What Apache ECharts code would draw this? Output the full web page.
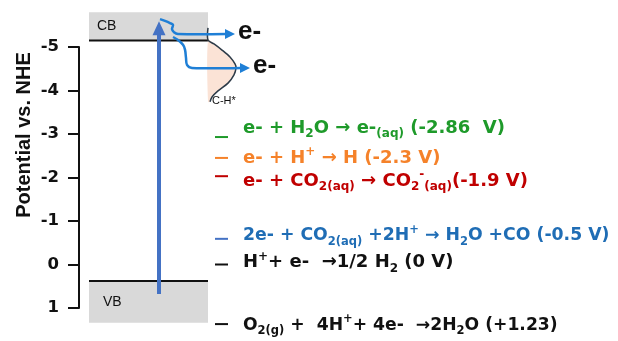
<!DOCTYPE html>
<html><head><meta charset="utf-8">
<script src="https://cdn.jsdelivr.net/npm/echarts@6/dist/echarts.min.js"></script>
<style>html,body{margin:0;padding:0;background:#fff}#c{width:618px;height:341px}</style>
</head><body><div id="c"></div>
<script>
// ---------- data ----------
const potentialTicks = [-5, -4, -3, -2, -1, 0, 1];
const bandNames = ['CB', 'VB'];
const bandEdge = [-5.15, 0.38];      // band edge potential (V vs NHE)
const bandOuter = [-5.80, 1.34];     // far limit of the shaded band
const excitationStart = 0.68;
const excitationEnd = -5.59;
const hotPath1X = [160, 165, 170, 173, 172, 174, 178, 235];
const hotPath1V = [-5.64, -5.60, -5.55, -5.51, -5.41, -5.34, -5.30, -5.30];
const hotPath2X = [173, 178, 183, 185, 186, 187, 192, 250];
const hotPath2V = [-5.23, -5.16, -5.05, -4.94, -4.75, -4.59, -4.52, -4.52];
const hotLabels = ['e-', 'e-'];
const chDensityV = [-5.44, -5.16, -5.07, -4.93, -4.77, -4.61, -4.52, -4.36, -4.17, -3.99, -3.85, -3.74];
const chDensityW = [0, 0, 6, 14, 22, 27, 28, 26, 20, 10, 4, 2];
const chLabel = 'C-H*';
const reactionLevels = [-2.93, -2.45, -2.03, -0.59, 0, 1.37];
const reactionTexts = [
  '{m|e- + H}{sub|2}{m|O → e-}{sub|(aq)}{m| (-2.86  V)}',
  '{m|e- + H}{sup|+}{m| → H (-2.3 V)}',
  '{m|e- + CO}{sub|2(aq)}{m| → CO}{sub|2}{sup|-}{sub|(aq)}{m|(-1.9 V)}',
  '{m|2e- + CO}{sub|2(aq)}{m| +2H}{sup|+}{m| → H}{sub|2}{m|O +CO (-0.5 V)}',
  '{m|H}{sup|+}{m|+ e-  →1/2 H}{sub|2}{m| (0 V)}',
  '{m|O}{sub|2(g)}{m| +  4H}{sup|+}{m|+ 4e-  →2H}{sub|2}{m|O (+1.23)}'
];
const yAxisTitle = 'Potential vs. NHE';

// ---------- styles / layout ----------
const dashColors = ['#1e9a2a', '#f5822a', '#c00000', '#4472c4', '#111111', '#111111'];
const textColors = ['#1e9a2a', '#f5822a', '#c00000', '#1f6db5', '#111111', '#111111'];
const labelDy = [-9, 0, 5, -3, -2, 1];
const labelSize = [18, 18, 18, 17.3, 18, 17.2];
const FONT = 'DejaVu Sans';
function rich(color, size) {
  const base = {fontFamily: FONT, fontWeight: 'bold', color: color, fill: color};
  const s = Math.round(size * 2 / 3 * 10) / 10;
  return {
    m: Object.assign({}, base, {fontSize: size, lineHeight: 24, verticalAlign: 'middle'}),
    sub: Object.assign({}, base, {fontSize: s, lineHeight: 12, verticalAlign: 'bottom'}),
    sup: Object.assign({}, base, {fontSize: s, lineHeight: 12, verticalAlign: 'top'})
  };
}
function arrowHead(tip, dirX, dirY, len, half, color) {
  const bx = tip[0] - dirX * len, by = tip[1] - dirY * len;
  const nx = -dirY, ny = dirX;
  return {type: 'polygon', shape: {points: [[tip[0], tip[1]], [bx + nx * half, by + ny * half], [bx - nx * half, by - ny * half]]},
    style: {fill: color}};
}

const chart = echarts.init(document.getElementById('c'));
chart.setOption({
  animation: false,
  grid: {left: 79, right: 0, top: 47, bottom: 33},
  xAxis: {type: 'value', min: 79, max: 618, show: false},
  yAxis: {
    type: 'value', min: -5, max: 1, interval: 1, inverse: true,
    axisLine: {show: true, lineStyle: {color: '#111', width: 2}},
    axisTick: {show: true, length: 11, lineStyle: {color: '#111', width: 2}},
    splitLine: {show: false},
    axisLabel: {margin: 20, color: '#111', fontFamily: 'DejaVu Sans', fontWeight: 'bold', fontSize: 16.5,
      formatter: v => potentialTicks.indexOf(v) >= 0 ? String(v) : ''}
  },
  graphic: [{
    type: 'text', x: 24, y: 135, rotation: Math.PI / 2,
    style: {text: yAxisTitle, fill: '#111', font: 'bold 20px "Liberation Sans"', align: 'center', verticalAlign: 'middle'}
  }],
  series: [
    { // bands
      type: 'custom', clip: false, z: 1,
      data: bandNames.map((n, i) => [bandEdge[i], bandOuter[i]]),
      renderItem(params, api) {
        const i = params.dataIndex;
        const a = api.coord([89, api.value(0)]), b = api.coord([208, api.value(1)]);
        const top = Math.min(a[1], b[1]), h = Math.abs(b[1] - a[1]);
        return {type: 'group', children: [
          {type: 'rect', shape: {x: a[0], y: top, width: b[0] - a[0], height: h}, style: {fill: '#d9d9d9'}},
          {type: 'line', shape: {x1: a[0], y1: a[1], x2: b[0], y2: a[1]}, style: {stroke: '#111', lineWidth: 2}},
          {type: 'text', x: a[0] + (i === 0 ? 8 : 14), y: top + h / 2,
            style: {text: bandNames[i], fill: '#111', font: '14px "Liberation Sans"', verticalAlign: 'middle'}}
        ]};
      }
    },
    { // C-H* density
      type: 'custom', clip: false, z: 2,
      data: [[0]],
      renderItem(params, api) {
        const pts = chDensityV.map((v, k) => api.coord([208 + chDensityW[k], v]));
        const fillPts = pts.slice(1).concat([api.coord([208, chDensityV[chDensityV.length - 1]])]);
        const last = pts[pts.length - 1];
        return {type: 'group', children: [
          {type: 'polygon', shape: {points: fillPts, smooth: 0.3}, style: {fill: '#fbe3d6'}},
          {type: 'polyline', shape: {points: pts, smooth: 0.3}, style: {stroke: '#2d3b48', lineWidth: 1.5, fill: null}},
          {type: 'text', x: last[0] + 2, y: last[1] - 1,
            style: {text: chLabel, fill: '#111', font: '11px "Liberation Sans"', verticalAlign: 'middle'}}
        ]};
      }
    },
    { // excitation arrow
      type: 'custom', clip: false, z: 3,
      data: [[excitationStart, excitationEnd]],
      renderItem(params, api) {
        const s = api.coord([159, api.value(0)]), e = api.coord([159, api.value(1)]);
        return {type: 'group', children: [
          {type: 'line', shape: {x1: s[0], y1: s[1], x2: e[0], y2: e[1] + 12}, style: {stroke: '#4472c4', lineWidth: 4}},
          arrowHead(e, 0, -1, 14, 6.5, '#4472c4')
        ]};
      }
    },
    { // hot electron paths
      type: 'custom', clip: false, z: 4,
      data: [[0], [1]],
      renderItem(params, api) {
        const i = params.dataIndex;
        const xs = i === 0 ? hotPath1X : hotPath2X, vs = i === 0 ? hotPath1V : hotPath2V;
        const pts = xs.map((x, k) => api.coord([x, vs[k]]));
        const tip = pts[pts.length - 1];
        const line = pts.slice(0, -1).concat([[tip[0] - 9, tip[1]]]);
        return {type: 'group', children: [
          {type: 'polyline', shape: {points: line, smooth: 0.35}, style: {stroke: '#1f7fd6', lineWidth: 2.5, fill: null}},
          arrowHead(tip, 1, 0, 10, 5, '#1f7fd6'),
          {type: 'text', x: tip[0] + 3, y: tip[1] - 2,
            style: {text: hotLabels[i], fill: '#111', font: 'bold 26px "Liberation Sans"', verticalAlign: 'middle'}}
        ]};
      }
    },
    { // reactions
      type: 'custom', clip: false, z: 5,
      data: reactionLevels.map(v => [v]),
      renderItem(params, api) {
        const i = params.dataIndex;
        const v = api.value(0);
        const a = api.coord([215, v]), b = api.coord([228, v]);
        const t = api.coord([243, v]);
        return {type: 'group', children: [
          {type: 'line', shape: {x1: a[0], y1: a[1], x2: b[0], y2: b[1]}, style: {stroke: dashColors[i], lineWidth: 2}},
          {type: 'text', x: t[0], y: t[1] + labelDy[i],
            style: {text: reactionTexts[i], rich: rich(textColors[i], labelSize[i]), fill: textColors[i], verticalAlign: 'middle', align: 'left'}}
        ]};
      }
    }
  ]
});
</script></body></html>
